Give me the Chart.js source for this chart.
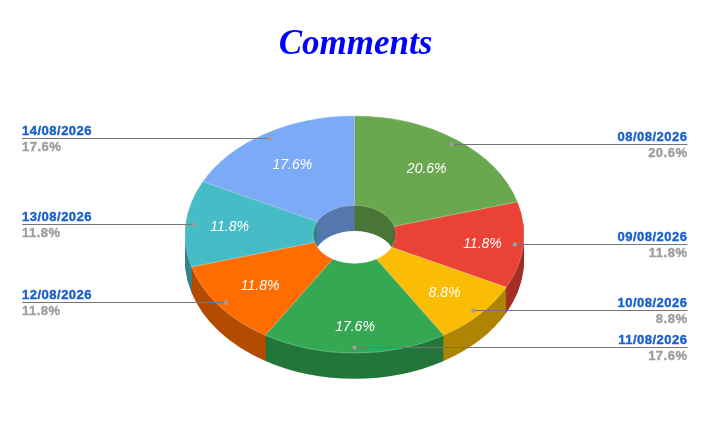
<!DOCTYPE html>
<html>
<head>
<meta charset="utf-8">
<title>Comments</title>
<script src="https://cdn.jsdelivr.net/npm/chart.js@4/dist/chart.umd.min.js"></script>
<style>
    html, body { margin: 0; padding: 0; background: #fff; }
    canvas { display: block; }
</style>
</head>
<body>
<canvas id="myChart" width="709" height="439"></canvas>
<script>
var categories = ['08/08/2026', '09/08/2026', '10/08/2026', '11/08/2026', '12/08/2026', '13/08/2026', '14/08/2026'];
var commentCounts = [7, 4, 3, 6, 4, 4, 6];
var sliceColors = ['#6aa84f', '#ea4335', '#fbbc04', '#34a853', '#ff6d01', '#46bdc6', '#7baaf7'];

// how the flat doughnut is laid down into a tilted disc
var centerX = 354.5;
var centerY = 234.4;
var outerRadius = 169.5;
var tilt = 0.7;
var depth = 25.6;
// distance of each percent label from the centre, before tilting
var labelRadius = [119, 128, 121, 131, 119, 126, 119];
var dotRadius = 161;

var total = commentCounts.reduce(function(a, b) { return a + b; }, 0);

function percentText(i) {
    return (commentCounts[i] / total * 100).toFixed(1) + '%';
}

function darken(hex) {
    var n = parseInt(hex.slice(1), 16);
    var r = Math.round((n >> 16) * 0.7);
    var g = Math.round(((n >> 8) & 255) * 0.7);
    var b = Math.round((n & 255) * 0.7);
    return 'rgb(' + r + ',' + g + ',' + b + ')';
}

// fill plus a thin outline, the labels are heavier than plain bold
function heavyText(ctx, text, x, y, color) {
    ctx.fillStyle = color;
    ctx.strokeStyle = color;
    ctx.lineWidth = 0.4;
    ctx.fillText(text, x, y);
    ctx.strokeText(text, x, y);
}

var disc3d = {
    id: 'disc3d',
    beforeDatasetsDraw: function(chart) {
        var ctx = chart.ctx;
        var arcs = chart.getDatasetMeta(0).data;
        ctx.save();
        ctx.translate(centerX, centerY);
        ctx.scale(1, tilt);
        ctx.translate(-arcs[0].x, -arcs[0].y);
        // stack darker copies of the ring from the bottom up for the side walls
        for (var d = depth; d > 0; d -= 1) {
            ctx.save();
            ctx.translate(0, d / tilt);
            arcs.forEach(function(arc, i) {
                var saved = arc.options;
                arc.options = {
                    backgroundColor: darken(sliceColors[i]),
                    borderColor: 'transparent',
                    borderWidth: 0,
                    borderAlign: 'center',
                    borderDash: [],
                    borderDashOffset: 0,
                    borderJoinStyle: 'round',
                    borderRadius: 0,
                    offset: 0,
                    spacing: 0,
                    circular: true
                };
                arc.draw(ctx);
                arc.options = saved;
            });
            ctx.restore();
        }
    },
    afterDatasetsDraw: function(chart) {
        var ctx = chart.ctx;
        ctx.restore();
        var arcs = chart.getDatasetMeta(0).data;
        arcs.forEach(function(arc, i) {
            var mid = (arc.startAngle + arc.endAngle) / 2;
            var cos = Math.cos(mid);
            var sin = Math.sin(mid);

            ctx.font = 'italic 14px "Liberation Sans"';
            ctx.letterSpacing = '0px';
            ctx.fillStyle = '#ffffff';
            ctx.textAlign = 'center';
            ctx.textBaseline = 'middle';
            ctx.fillText(percentText(i), centerX + 0.5 + labelRadius[i] * cos, centerY + 1.2 + labelRadius[i] * sin * tilt);

            // leader line, dot and the two line label
            var dotX = centerX + dotRadius * cos;
            var dotY = Math.round(centerY - 0.4 + dotRadius * sin * tilt) + 0.5;
            var onRight = cos > -0.01;
            var endX = onRight ? 687.5 : 22;
            ctx.strokeStyle = '#757575';
            ctx.lineWidth = 1;
            ctx.beginPath();
            ctx.moveTo(dotX, dotY);
            ctx.lineTo(endX, dotY);
            ctx.stroke();
            ctx.fillStyle = '#9e9e9e';
            ctx.beginPath();
            ctx.arc(dotX, dotY, 2.2, 0, Math.PI * 2);
            ctx.fill();

            ctx.textAlign = onRight ? 'right' : 'left';
            ctx.textBaseline = 'alphabetic';
            ctx.font = 'bold 13px "Liberation Sans"';
            ctx.letterSpacing = '0.5px';
            heavyText(ctx, categories[i], endX, dotY - 4, '#1a5fd1');
            heavyText(ctx, percentText(i), endX, dotY + 12.5, '#9e9e9e');
        });
    }
};

var ctx = document.getElementById('myChart').getContext('2d');
var myChart = new Chart(ctx, {
    type: 'doughnut',
    plugins: [disc3d],
    data: {
        labels: categories,
        datasets: [{
            data: commentCounts,
            backgroundColor: sliceColors,
            borderColor: 'rgba(255, 255, 255, 0.45)',
            borderWidth: 0.7,
            clip: false
        }]
    },
    options: {
        responsive: false,
        animation: false,
        events: [],
        radius: outerRadius,
        cutout: (41.5 / outerRadius * 100) + '%',
        layout: { padding: { left: 2 } },
        plugins: {
            legend: { display: false },
            tooltip: { enabled: false },
            title: {
                display: true,
                text: 'Comments',
                color: '#0000ff',
                padding: { top: 24, bottom: 0 },
                font: { family: '"Liberation Serif"', size: 35, style: 'italic', weight: 'bold' }
            }
        }
    }
});
</script>
</body>
</html>
